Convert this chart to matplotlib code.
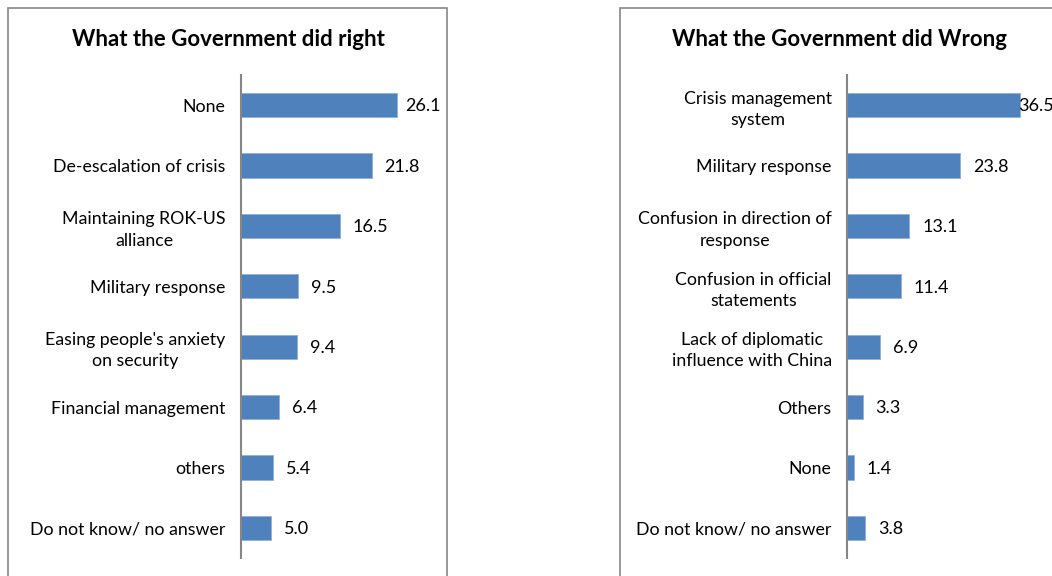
import matplotlib.pyplot as plt
from matplotlib.patches import Rectangle

plt.rcParams['font.family'] = ['Lato', 'DejaVu Sans']

# data, top to bottom
right_labels = ['None', 'De-escalation of crisis', 'Maintaining ROK-US\nalliance',
                'Military response', "Easing people's anxiety\non security",
                'Financial management', 'others', 'Do not know/ no answer']
right_vals = [26.1, 21.8, 16.5, 9.5, 9.4, 6.4, 5.4, 5.0]

wrong_labels = ['Crisis management\nsystem', 'Military response',
                'Confusion in direction of\nresponse', 'Confusion in official\nstatements',
                'Lack of diplomatic\ninfluence with China', 'Others', 'None',
                'Do not know/ no answer']
wrong_vals = [36.5, 23.8, 13.1, 11.4, 6.9, 3.3, 1.4, 3.8]

W, H = 1052, 576
fig = plt.figure(figsize=(W / 100, H / 100), dpi=100)

blue = '#4F81BD'
gray = '#868686'

# outer boxes of the two chart objects
fig.patches.append(Rectangle((8 / W, -0.1), (447 - 8) / W, 1.1 - 8 / H,
                             transform=fig.transFigure, fill=False,
                             edgecolor=gray, lw=1.2))
fig.patches.append(Rectangle((620 / W, -0.1), 0.5, 1.1 - 8 / H,
                             transform=fig.transFigure, fill=False,
                             edgecolor=gray, lw=1.2))


def panel(x0, x1, xmax, labels, vals, title, title_x):
    ax = fig.add_axes([x0 / W, 1 - 558 / H, (x1 - x0) / W, (558 - 75) / H])
    pos = list(range(len(vals)))
    ax.barh(pos, vals, height=0.4, color=blue, edgecolor='#8DB0DC', lw=0.6)
    ax.set_xlim(0, xmax)
    ax.set_ylim(len(vals) - 0.5, -0.5)
    ax.set_yticks(pos)
    ax.set_yticklabels(labels, fontsize=12.8, multialignment='center',
                       linespacing=1.4)
    ax.tick_params(axis='y', length=0, pad=11)
    ax.set_xticks([])
    for s in ['top', 'right', 'bottom']:
        ax.spines[s].set_visible(False)
    ax.spines['left'].set_color(gray)
    ax.spines['left'].set_linewidth(1.5)
    ppu = (x1 - x0) / xmax
    for p, v in zip(pos, vals):
        lw_ = 36 / ppu
        x = min(v + 13 / ppu, xmax - lw_)
        ax.text(x, p + 0.02, f'{v:.1f}', va='center', ha='left', fontsize=13)
    fig.text(title_x / W, 1 - 39 / H, title, ha='center', va='center',
             fontsize=16, fontweight='bold')
    return ax


panel(241, 441, 33.4, right_labels, right_vals,
      'What the Government did right', 228)
panel(847, 1054, 43.7, wrong_labels, wrong_vals,
      'What the Government did Wrong', 840)

fig.savefig('out.png', dpi=100)
